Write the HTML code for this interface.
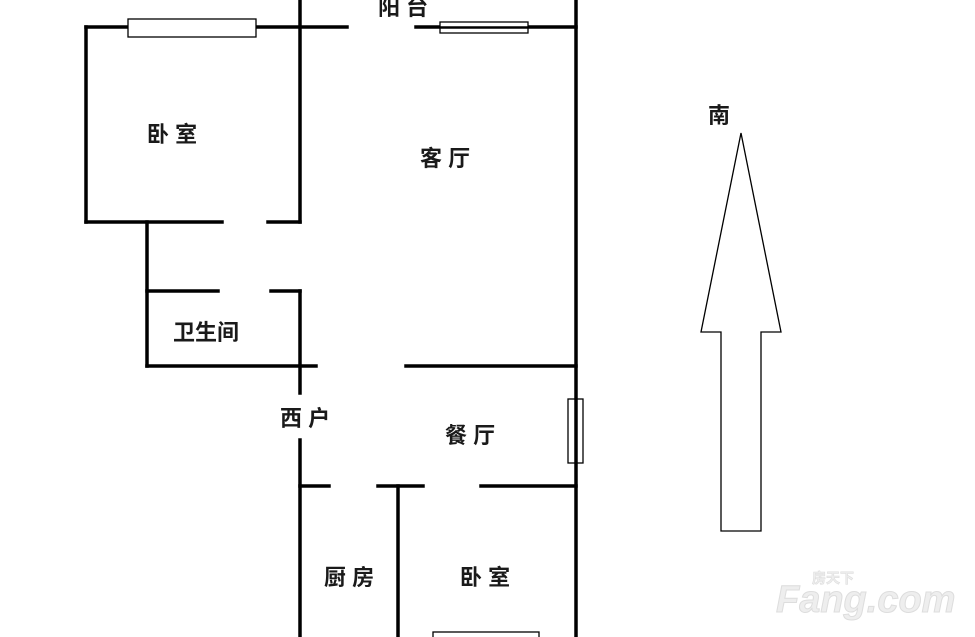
<!DOCTYPE html>
<html><head><meta charset="utf-8"><style>
html,body{margin:0;padding:0;background:#fff;}
svg{display:block;}
text{font-family:"Liberation Sans","Noto Sans CJK SC",sans-serif;fill:#1a1a1a;font-size:22px;font-weight:bold;}
</style></head><body>
<svg width="975" height="637" viewBox="0 0 975 637" xmlns="http://www.w3.org/2000/svg">
<g stroke="#000" stroke-width="3.5" fill="none" stroke-linecap="square">
<line x1="86" y1="27" x2="128" y2="27"/>
<line x1="256" y1="27" x2="347" y2="27"/>
<line x1="86" y1="27" x2="86" y2="222"/>
<line x1="86" y1="222" x2="222" y2="222"/>
<line x1="268" y1="222" x2="300" y2="222"/>
<line x1="300" y1="0" x2="300" y2="222"/>
<line x1="416" y1="27" x2="576" y2="27"/>
<line x1="576" y1="0" x2="576" y2="637"/>
<line x1="147" y1="222" x2="147" y2="366"/>
<line x1="147" y1="291" x2="218" y2="291"/>
<line x1="271" y1="291" x2="300" y2="291"/>
<line x1="300" y1="291" x2="300" y2="393"/>
<line x1="147" y1="366" x2="316" y2="366"/>
<line x1="406" y1="366" x2="576" y2="366"/>
<line x1="300" y1="440" x2="300" y2="637"/>
<line x1="300" y1="486" x2="329" y2="486"/>
<line x1="378" y1="486" x2="423" y2="486"/>
<line x1="398" y1="486" x2="398" y2="637"/>
<line x1="481" y1="486" x2="576" y2="486"/>
</g>
<g stroke="#000" stroke-width="1.3" fill="#fff">
<rect x="128" y="19" width="128" height="18"/>
<rect x="440" y="22" width="88" height="11"/>
<rect x="568" y="399" width="15" height="64" fill="none"/>
<rect x="433" y="632" width="106" height="8"/>
</g>
<line x1="440" y1="27.5" x2="528" y2="27.5" stroke="#000" stroke-width="2.5"/>
<polygon points="741,133 781,332 761,332 761,531 721,531 721,332 701,332" fill="#fff" stroke="#000" stroke-width="1.3"/>
<text x="378" y="15">阳 台</text>
<text x="147" y="142">卧 室</text>
<text x="420" y="166">客 厅</text>
<text x="173" y="340">卫生间</text>
<text x="280" y="426">西 户</text>
<text x="445" y="443">餐 厅</text>
<text x="324" y="585">厨 房</text>
<text x="460" y="585">卧 室</text>
<text x="708" y="123">南</text>
<text x="776" y="612" style="font-size:38px;font-weight:bold;font-style:italic;fill:#eee;stroke:#ddd;stroke-width:1">Fang.com</text>
<text x="812" y="583" style="font-size:14px;font-weight:bold;fill:#eee;stroke:#ddd;stroke-width:0.6">房天下</text>
</svg>
</body></html>
